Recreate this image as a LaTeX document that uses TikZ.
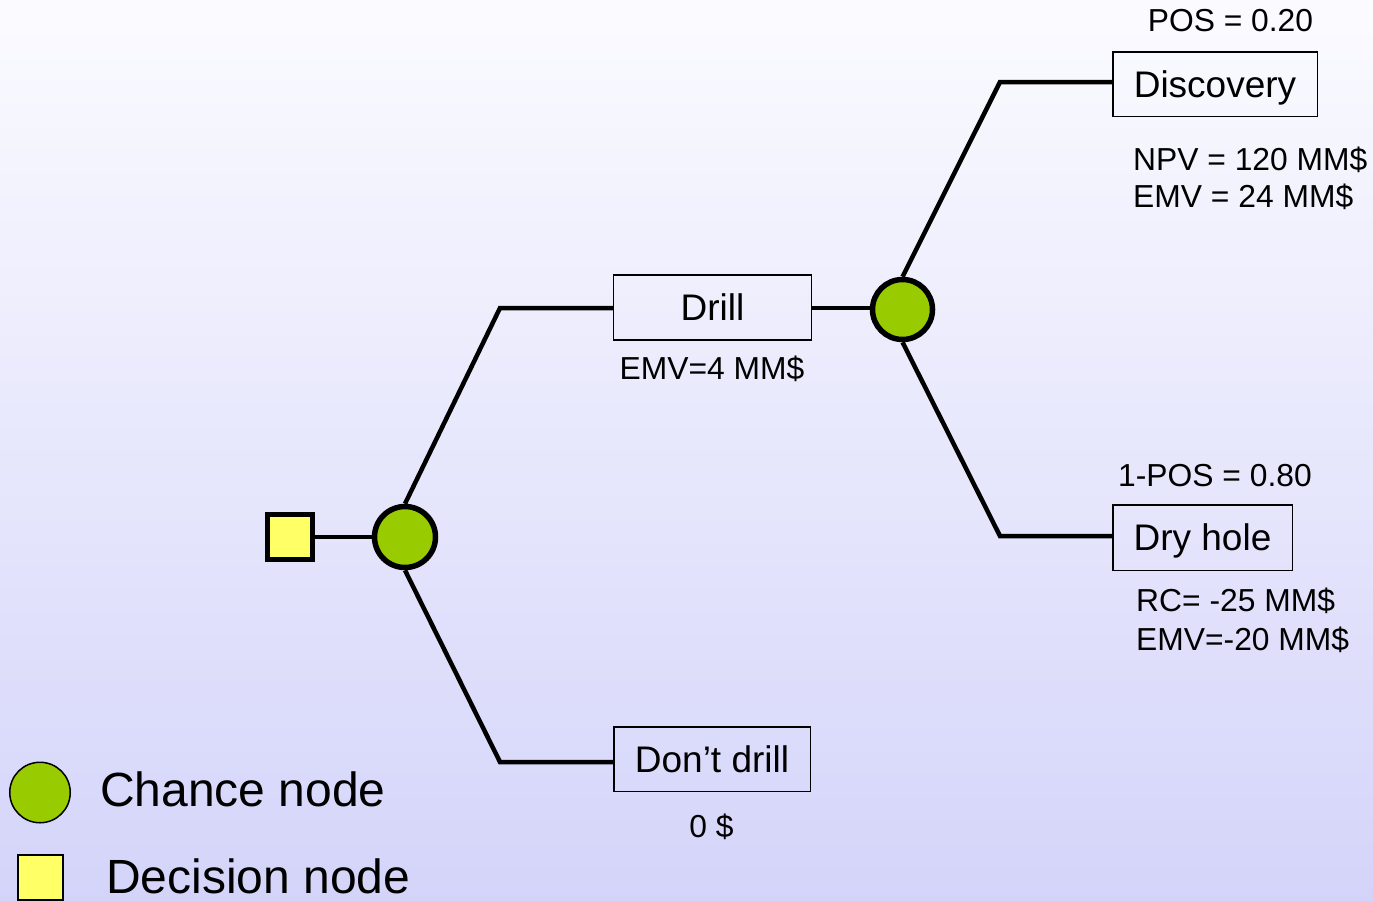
\documentclass[tikz,border=0pt]{standalone}
\usepackage{fontspec}
\setmainfont{Liberation Sans}
\definecolor{chancegreen}{RGB}{153,204,0}
\definecolor{decyellow}{RGB}{255,255,102}
\definecolor{bgtop}{RGB}{251,251,255}
\definecolor{bgbot}{RGB}{212,212,250}
\pgfdeclarelayer{bg}
\pgfsetlayers{bg,main}
\begin{document}
\begin{tikzpicture}[x=1pt,y=-1pt,
  branch/.style={line width=4.5pt},
  chance/.style={circle, draw, line width=5.5pt, fill=chancegreen, minimum size=61pt, inner sep=0pt},
  decision/.style={rectangle, draw, line width=5pt, fill=decyellow, minimum size=45pt, inner sep=0pt},
  outcome/.style={rectangle, draw, line width=1.5pt, inner sep=0pt,
    font=\fontsize{37}{44}\selectfont, text height=26.5pt, text depth=0pt},
  info/.style={inner sep=0pt, font=\fontsize{31.8}{38}\selectfont},
  legend/.style={inner sep=0pt, font=\fontsize{48}{57}\selectfont}]
\useasboundingbox (0,0) rectangle (1373,900);
\begin{pgfonlayer}{bg}
  \shade[top color=bgtop, bottom color=bgbot] (0,0) rectangle (1373,900);
\end{pgfonlayer}

% decision tree nodes
\node[decision] (d0) at (290,537) {};
\node[chance] (c1) at (405,537) {};
\node[outcome, minimum width=198pt, minimum height=65pt] (drill) at (712.5,307.5) {Drill};
\node[outcome, minimum width=196.5pt, minimum height=64.5pt] (nodrill) at (712,759) {Don’t drill};
\node[chance, minimum size=60pt] (c2) at (902.5,309.5) {};
\node[outcome, minimum width=204.5pt, minimum height=64.5pt] (disc) at (1215,84) {Discovery};
\node[outcome, minimum width=179.5pt, minimum height=65.5pt] (dry) at (1202.5,537.5) {Dry hole};

% bend points of the branches
\coordinate (k1) at (500,308);
\coordinate (k2) at (500,762);
\coordinate (k3) at (1000,82);
\coordinate (k4) at (1000,536);

\begin{pgfonlayer}{bg}
  \draw[branch] (d0.east) -- (c1.west);
  \draw[branch] (c1.north) -- (k1) -- (k1 -| drill.west);
  \draw[branch] (c1.south) -- (k2) -- (k2 -| nodrill.west);
  \draw[branch] (k1 -| drill.east) -- (k1 -| c2.center);
  \draw[branch] (c2.north) -- (k3) -- (k3 -| disc.west);
  \draw[branch] (c2.south) -- (k4) -- (k4 -| dry.west);
\end{pgfonlayer}

% values and probabilities
\node[info, anchor=base] (emvdrill) at (712,379.3) {EMV=4 MM\$};
\node[info, anchor=base] (zero) at (711.5,837) {0 \$};
\node[info, anchor=base west] (pos) at (1147.6,31.5) {POS = 0.20};
\node[info, anchor=base west] (npv) at (1133,170) {NPV = 120 MM\$};
\node[info, anchor=base west] (emvdisc) at (1133,207) {EMV = 24 MM\$};
\node[info, anchor=base west] (npos) at (1118,486) {1-POS = 0.80};
\node[info, anchor=base west] (rc) at (1136,611.7) {RC= -25 MM\$};
\node[info, anchor=base west] (emvdry) at (1136,650) {EMV=-20 MM\$};

% legend
\node[circle, draw, line width=1.5pt, fill=chancegreen, minimum size=60.5pt, inner sep=0pt] (lc) at (40,792.5) {};
\node[rectangle, draw, line width=1.5pt, fill=decyellow, minimum size=45pt, inner sep=0pt] (ld) at (40.7,877.3) {};
\node[legend, anchor=base west] (lct) at (100,806) {Chance node};
\node[legend, anchor=base west] (ldt) at (106,893.3) {Decision node};
\end{tikzpicture}
\end{document}
